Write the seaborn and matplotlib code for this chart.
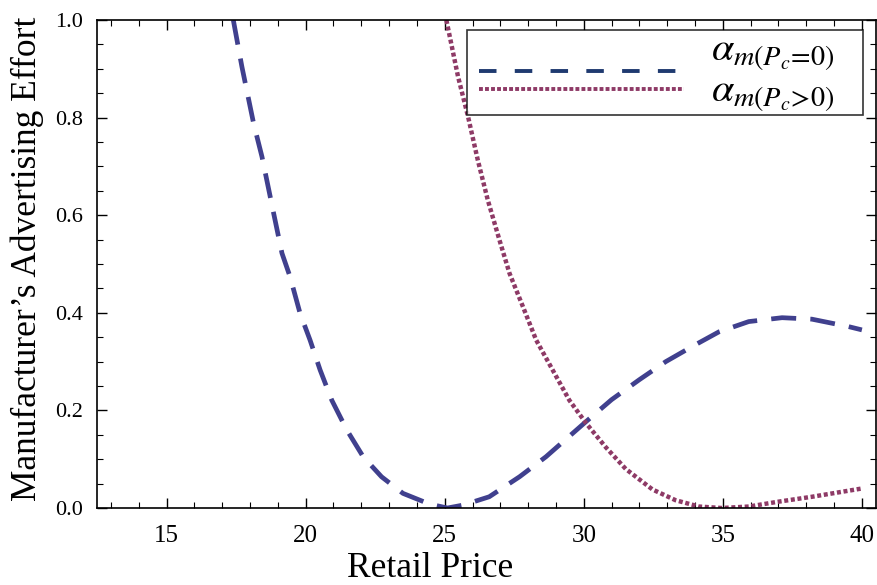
import numpy as np
import pandas as pd
import matplotlib
matplotlib.use("Agg")
import matplotlib.pyplot as plt
import seaborn as sns
from matplotlib.ticker import MultipleLocator

# ---- data ----
price_pc0 = [17.4, 17.71, 18.13, 18.43, 18.85, 19.15, 19.44, 19.80, 20.16, 20.52,
             20.94, 21.48, 22.07, 22.73, 23.5, 24.46, 25.1, 25.66, 26.6, 27.69,
             28.64, 29.6, 30.08, 31.0, 32.0, 32.95, 33.9, 34.86, 35.93, 37.13,
             38.2, 39.5, 40.0]
effort_pc0 = [1.0, 0.904, 0.788, 0.72, 0.604, 0.522, 0.474, 0.399, 0.344, 0.283,
              0.221, 0.16, 0.105, 0.064, 0.030, 0.008, 0.0, 0.006, 0.023, 0.064,
              0.105, 0.153, 0.177, 0.222, 0.263, 0.30, 0.331, 0.361, 0.382, 0.39,
              0.387, 0.372, 0.365]

price_pcpos = [25.06, 25.48, 25.84, 26.19, 26.55, 26.97, 27.33, 27.81, 28.29, 28.88,
               29.48, 30.08, 30.8, 31.51, 32.47, 33.3, 34.14, 34.96, 35.93, 37.0,
               38.2, 40.0]
effort_pcpos = [1.0, 0.884, 0.802, 0.713, 0.631, 0.549, 0.481, 0.413, 0.344, 0.283,
                0.221, 0.174, 0.124, 0.08, 0.038, 0.016, 0.003, 0.0, 0.003, 0.013,
                0.023, 0.04]

label_pc0 = r'$\alpha_{m(P_c\!=\!0)}$'
label_pcpos = r'$\alpha_{m(P_c\!>\!0)}$'
x_ticks = [15, 20, 25, 30, 35, 40]
y_ticks = [0.0, 0.2, 0.4, 0.6, 0.8, 1.0]

# ---- style ----
sns.set_theme(style="white")
plt.rcParams['font.family'] = ['Liberation Serif', 'DejaVu Serif']
plt.rcParams['mathtext.fontset'] = 'stix'
plt.rcParams['text.color'] = 'black'
plt.rcParams['axes.labelcolor'] = 'black'
plt.rcParams['xtick.color'] = 'black'
plt.rcParams['ytick.color'] = 'black'

fig = plt.figure(figsize=(8.78, 5.85), dpi=100)
ax = fig.add_axes([0.1105, 0.1316, 0.887, 0.8342])

df0 = pd.DataFrame({'price': price_pc0, 'effort': effort_pc0})
df1 = pd.DataFrame({'price': price_pcpos, 'effort': effort_pcpos})

blue = '#40408e'
red = '#8e3a66'
dash_b = (5.3, 3.0)
dash_r = (0.9, 0.6)

sns.lineplot(data=df0, x='price', y='effort', ax=ax, color=blue,
             linewidth=3.4, label=label_pc0, sort=True)
sns.lineplot(data=df1, x='price', y='effort', ax=ax, color=red,
             linewidth=3.2, label=label_pcpos, sort=True)

ax.lines[0].set_dashes(dash_b)
ax.lines[1].set_dashes(dash_r)

ax.set_xlim(12.5, 40.5)
ax.set_ylim(0, 1.0)
ax.set_xticks(x_ticks)
ax.set_xticklabels([str(t) for t in x_ticks])
ax.set_yticks(y_ticks)
ax.set_yticklabels([f'{t:.1f}' for t in y_ticks])
ax.xaxis.set_minor_locator(MultipleLocator(1))
ax.yaxis.set_minor_locator(MultipleLocator(0.05))
ax.tick_params(which='both', direction='in', top=True, right=True,
               bottom=True, left=True, color='black')
ax.tick_params(which='major', length=7, width=1.0)
ax.tick_params(which='minor', length=4, width=0.8)
ax.tick_params(axis='x', which='major', labelsize=18, pad=12)
ax.tick_params(axis='y', which='major', labelsize=16, pad=10)
for s in ax.spines.values():
    s.set_color('black')
    s.set_linewidth(1.2)

ax.set_xlabel('Retail Price', fontsize=25.5)
ax.set_ylabel("Manufacturer\u2019s Advertising Effort", fontsize=25.5)
ax.xaxis.set_label_coords(0.4275, -0.091)
ax.yaxis.set_label_coords(-0.068, 0.51)

leg = ax.legend(loc='upper left', bbox_to_anchor=(0.475, 0.5, 0.5083, 0.48),
                mode='expand', fontsize=29,
                frameon=True, fancybox=False, handlelength=5.1,
                handletextpad=0.92, borderpad=0.05, labelspacing=0.0,
                borderaxespad=0.0, markerfirst=True)
leg.get_frame().set_edgecolor('black')
leg.get_frame().set_linewidth(1.2)
hb, hr = leg.legend_handles
hb.set_color('#1f3a70')
hb.set_linewidth(2.8)
hb.set_dashes((4.5, 4.7))
hr.set_linewidth(2.8)
hr.set_dashes((1.0, 0.55))
hb.set_ydata(np.asarray(hb.get_ydata()) - 18.0)
hr.set_ydata(np.asarray(hr.get_ydata()) - 2.0)
hb.set_xdata(np.asarray(hb.get_xdata()) + 7.2)
hr.set_xdata(np.asarray(hr.get_xdata()) + 7.2)

fig.savefig('out.png', dpi=100)
